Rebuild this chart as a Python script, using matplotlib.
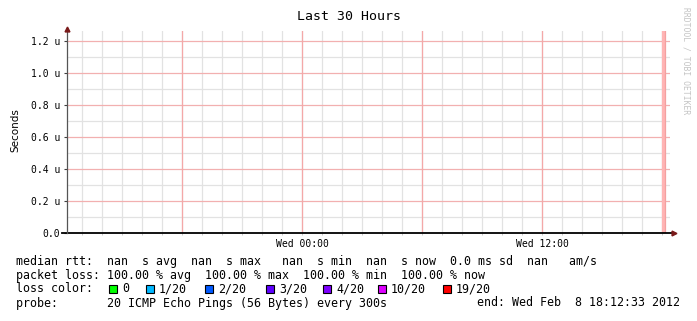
import matplotlib
matplotlib.use('Agg')
import matplotlib.pyplot as plt
from matplotlib.patches import Rectangle
from matplotlib.ticker import MultipleLocator

# hours relative to Wed 00:00
x_start = -11.75
x_end = 18.4
y_max = 1.2625e-6

major_hours = [-6, 0, 6, 12, 18]
tick_hours = [0, 12]
tick_labels = ['Wed 00:00', 'Wed 12:00']

y_ticks = [0.0, 0.2e-6, 0.4e-6, 0.6e-6, 0.8e-6, 1.0e-6, 1.2e-6]
y_labels = ['0.0', '0.2 u', '0.4 u', '0.6 u', '0.8 u', '1.0 u', '1.2 u']

# last sample: 100% loss
loss_span = (18.0, 18.2)

rtt_stats = ['nan', 'nan', 'nan', 'nan', '0.0', 'nan']
loss_stats = ['100.00', '100.00', '100.00', '100.00']
loss_names = ['0', '1/20', '2/20', '3/20', '4/20', '10/20', '19/20']
loss_colors = ['#00ff00', '#00b8ff', '#0059ff', '#5e00ff', '#7e00ff', '#dd00ff', '#ff0000']
probe_text = '20 ICMP Echo Pings (56 Bytes) every 300s'
end_text = 'end: Wed Feb  8 18:12:33 2012'

W, H = 697, 321
mono = 'DejaVu Sans Mono'

fig = plt.figure(figsize=(W / 100, H / 100), dpi=100)
ax = fig.add_axes([67 / W, (H - 233) / H, (670 - 67) / W, (233 - 31) / H])
ax.set_xlim(x_start, x_end)
ax.set_ylim(0, y_max)
for s in ax.spines.values():
    s.set_visible(False)

# grid
for h in range(-11, 19):
    ax.axvline(h, color='#e2e2e2', lw=0.9, zorder=1)
for k in range(1, 13, 2):
    ax.axhline(k * 0.1e-6, color='#e2e2e2', lw=0.9, zorder=1)
for v in y_ticks[1:]:
    ax.axhline(v, color='#f2b0b0', lw=0.9, zorder=2)
for h in major_hours:
    ax.axvline(h, color='#f4a8a8', lw=0.9, zorder=2)
ax.axvspan(loss_span[0], loss_span[1], color='#ffb4b4', lw=0, zorder=2)
ax.axvline(loss_span[1] - 0.03, color='#f4a0a0', lw=0.9, zorder=2)

# ticks
ax.set_yticks(y_ticks)
ax.set_yticklabels(y_labels, family=mono, fontsize=7)
ax.set_xticks(tick_hours)
ax.set_xticklabels(tick_labels, family=mono, fontsize=7)
ax.xaxis.set_minor_locator(MultipleLocator(1))
ax.tick_params(axis='y', length=2.5, width=0.8, color='#404040', pad=2.5)
ax.tick_params(axis='x', which='both', length=1.5, width=0.6, color='#c0c0c0', pad=3)

# axes with arrows
ax.plot([-0.008, 1.005], [0, 0], transform=ax.transAxes, color='black', lw=1.3, clip_on=False, zorder=5)
ax.plot([1.007], [0], transform=ax.transAxes, marker='>', ms=3.5, color='#7a1a1a', clip_on=False, zorder=6)
ax.plot([0, 0], [0, 1.0], transform=ax.transAxes, color='#555555', lw=0.9, clip_on=False, zorder=5)
ax.plot([0], [1.01], transform=ax.transAxes, marker='^', ms=3.5, color='#7a1a1a', clip_on=False, zorder=6)

fig.text(15 / W, 1 - 130 / H, 'Seconds', rotation=90, ha='center', va='center',
         family='DejaVu Sans', fontsize=7.5)
fig.text(349 / W, 1 - 16 / H, 'Last 30 Hours', ha='center', va='center', family=mono, fontsize=9.5)
fig.text(686 / W, 1 - 7 / H, 'RRDTOOL / TOBI OETIKER', rotation=270, ha='center', va='top',
         family=mono, fontsize=5.8, color='#c4c4c4')

# legend
fs = 8.4
line1 = ('median rtt:  %s  s avg  %s  s max   %s  s min  %s  s now  %s ms sd  %s   am/s'
         % tuple(rtt_stats))
line2 = 'packet loss: %s %% avg  %s %% max  %s %% min  %s %% now' % tuple(loss_stats)
fig.text(16 / W, 1 - 261 / H, line1, ha='left', va='center', family=mono, fontsize=fs)
fig.text(16 / W, 1 - 275 / H, line2, ha='left', va='center', family=mono, fontsize=fs)
fig.text(16 / W, 1 - 289 / H, 'loss color:', ha='left', va='center', family=mono, fontsize=fs)
square_x = [109, 146, 205, 266, 323, 378, 443]
for sx, name, col in zip(square_x, loss_names, loss_colors):
    fig.add_artist(Rectangle((sx / W, 1 - 292.5 / H), 8 / W, 8 / H, transform=fig.transFigure,
                             facecolor=col, edgecolor='black', lw=0.8))
    fig.text((sx + 13) / W, 1 - 289 / H, name, ha='left', va='center', family=mono, fontsize=fs)
fig.text(16 / W, 1 - 303 / H, 'probe:       ' + probe_text, ha='left', va='center', family=mono, fontsize=fs)
fig.text(680 / W, 1 - 303 / H, end_text, ha='right', va='center', family=mono, fontsize=fs)

fig.savefig('out.png', dpi=100)
